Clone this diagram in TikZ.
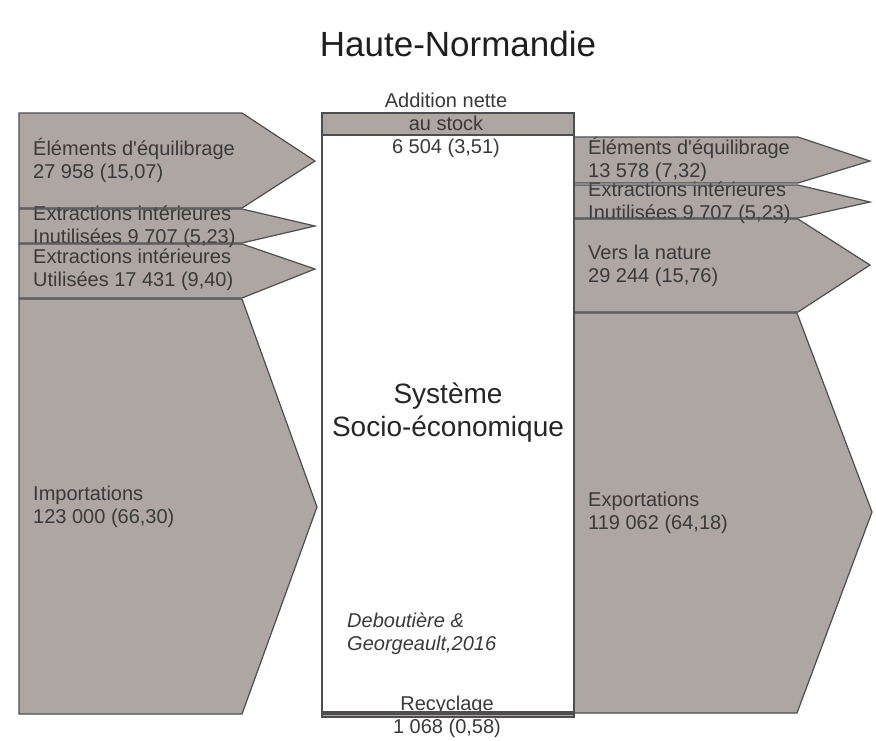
\documentclass[tikz,border=0pt]{standalone}
\usepackage{fontspec}
\setmainfont{Liberation Sans}
\definecolor{flowgrey}{HTML}{ADA6A2}
\definecolor{edgegrey}{HTML}{4E4E4E}
\definecolor{txtgrey}{HTML}{3A3A3A}
\newcommand\ShL{(19,113) -- (242,113) -- (315,161) -- (242,208) -- (19,208) -- cycle}
\newcommand\ShLb{(19,209) -- (242,209) -- (315,226) -- (242,243) -- (19,243) -- cycle}
\newcommand\ShLc{(19,244) -- (242,244) -- (315,269) -- (242,298) -- (19,298) -- cycle}
\newcommand\ShLd{(19,299) -- (242,299) -- (317,507) -- (242,714) -- (19,714) -- cycle}
\newcommand\ShR{(574,137) -- (798,137) -- (870,161) -- (798,183) -- (574,183) -- cycle}
\newcommand\ShRb{(574,185) -- (798,185) -- (870,202) -- (798,218) -- (574,218) -- cycle}
\newcommand\ShRc{(574,219) -- (798,219) -- (870,265) -- (798,312) -- (574,312) -- cycle}
\newcommand\ShRd{(574,313) -- (797,313) -- (872,512) -- (797,713) -- (574,713) -- cycle}
\newcommand\ShBox{(322,113) rectangle (574,714)}
\newcommand\ShTop{(322,113) rectangle (574,135)}
\newcommand\ShBot{(322,712) rectangle (574,717)}
\begin{document}
\begin{tikzpicture}[x=1pt,y=-1pt,
  flowfill/.style={fill=flowgrey},
  flowline/.style={draw=edgegrey,line width=1.2pt,line join=miter},
  lbl/.style={inner sep=0pt,align=left,text=txtgrey,font=\fontsize{20}{23}\selectfont},
  clbl/.style={inner sep=0pt,align=center,text=txtgrey,font=\fontsize{20}{23}\selectfont}]
\useasboundingbox[fill=white] (0,0) rectangle (876,740);
% fills
\fill[white] \ShBox;
\fill[flowfill] \ShL;
\fill[flowfill] \ShLb;
\fill[flowfill] \ShLc;
\fill[flowfill] \ShLd;
\fill[flowfill] \ShR;
\fill[flowfill] \ShRb;
\fill[flowfill] \ShRc;
\fill[flowfill] \ShRd;
\fill[flowfill] \ShTop;
\fill[flowfill] \ShBot;
% texts
\node[font=\fontsize{35}{40}\selectfont,text=black!88,inner sep=0pt] (title) at (458,44) {Haute-Normandie};
\node[lbl,anchor=west] (l1) at (33,160) {Éléments d\textquotesingle équilibrage\\27 958 (15,07)};
\node[lbl,anchor=west] (l2) at (33,227) {Extractions intérieures\\Inutilisées 9 707 (5,23)};
\node[lbl,anchor=west] (l3) at (33,270) {Extractions intérieures\\Utilisées 17 431 (9,40)};
\node[lbl,anchor=west] (l4) at (33,507) {Importations\\123 000 (66,30)};
\node[lbl,anchor=west] (r1) at (588,159) {Éléments d\textquotesingle équilibrage\\13 578 (7,32)};
\node[lbl,anchor=west] (r2) at (588,203) {Extractions intérieures\\Inutilisées 9 707 (5,23)};
\node[lbl,anchor=west] (r3) at (588,266) {Vers la nature\\29 244 (15,76)};
\node[lbl,anchor=west] (r4) at (588,513) {Exportations\\119 062 (64,18)};
\node[clbl] (stock) at (446,125) {Addition nette\\au stock\\6 504 (3,51)};
\node[clbl] (recy) at (447,717) {Recyclage\\1 068 (0,58)};
\node[lbl,anchor=west,font=\fontsize{20}{23}\selectfont\itshape] (cite) at (347,634) {Deboutière \&\\Georgeault,2016};
\node[inner sep=0pt,align=center,text=black!85,font=\fontsize{28}{33}\selectfont] (sys) at (448,413) {Système\\Socio-économique};
% outlines
\draw[flowline] \ShL;
\draw[flowline] \ShLb;
\draw[flowline] \ShLc;
\draw[flowline] \ShLd;
\draw[flowline] \ShR;
\draw[flowline] \ShRb;
\draw[flowline] \ShRc;
\draw[flowline] \ShRd;
\draw[flowline] \ShBox;
\draw[flowline] \ShTop;
\draw[flowline] \ShBot;
\end{tikzpicture}
\end{document}
